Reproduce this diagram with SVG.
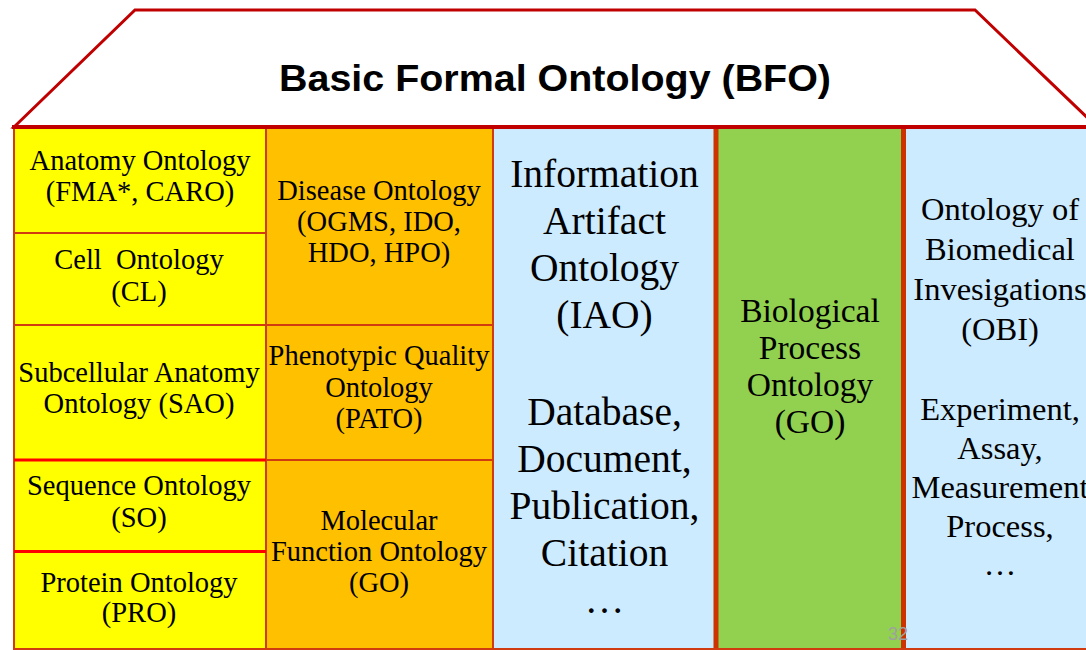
<svg xmlns="http://www.w3.org/2000/svg" width="1086" height="650" viewBox="0 0 1086 650">
<style>
.serif{font-family:"Liberation Serif","Times New Roman",serif;fill:#000;text-anchor:middle}
.s-left{font-size:28.5px}
.s-green{font-size:33.5px}
.s-iao{font-size:39.5px}
.s-obi{font-size:32.5px}
.title{font-family:"Liberation Sans",Arial,sans-serif;font-weight:bold;font-size:37px;fill:#000;text-anchor:middle}
.pg{font-family:"Liberation Sans",Arial,sans-serif;font-size:18px;fill:#a0a0a0;text-anchor:middle}
.thin{stroke:#d03c10;stroke-width:2;fill:none}
.red{stroke:#ff0000;stroke-width:3;fill:none}
.thick{stroke:#cc3300;stroke-width:5;fill:none}
.yellow{fill:#ffff00}
.orange{fill:#ffc000}
.blue{fill:#cdebff}
.green{fill:#92d050}
</style>
<rect x="0" y="0" width="1086" height="650" fill="#ffffff"/>

<g id="roof">
  <polygon points="14,127 135,10 975,10 1097,127" fill="#ffffff" stroke="#c00000" stroke-width="3"/>
  <text class="title" x="555" y="91" textLength="552" lengthAdjust="spacingAndGlyphs">Basic Formal Ontology (BFO)</text>
</g>

<g id="anatomy">
  <rect class="yellow" x="14" y="127" width="252" height="106"/>
  <text class="serif s-left" x="140" y="170">Anatomy Ontology</text>
  <text class="serif s-left" x="140" y="201">(FMA*, CARO)</text>
</g>
<g id="cell">
  <rect class="yellow" x="14" y="233" width="252" height="92"/>
  <text class="serif s-left" x="139" y="269">Cell&#160; Ontology</text>
  <text class="serif s-left" x="139" y="301">(CL)</text>
</g>
<g id="subcellular">
  <rect class="yellow" x="14" y="325" width="252" height="135"/>
  <text class="serif s-left" x="139" y="382">Subcellular Anatomy</text>
  <text class="serif s-left" x="139" y="413">Ontology (SAO)</text>
</g>
<g id="sequence">
  <rect class="yellow" x="14" y="460" width="252" height="91"/>
  <text class="serif s-left" x="139" y="495">Sequence Ontology</text>
  <text class="serif s-left" x="139" y="527">(SO)</text>
</g>
<g id="protein">
  <rect class="yellow" x="14" y="551" width="252" height="99"/>
  <text class="serif s-left" x="139" y="592">Protein Ontology</text>
  <text class="serif s-left" x="139" y="622">(PRO)</text>
</g>

<g id="disease">
  <rect class="orange" x="266" y="127" width="227" height="198"/>
  <text class="serif s-left" x="379" y="200">Disease Ontology</text>
  <text class="serif s-left" x="379" y="231">(OGMS, IDO,</text>
  <text class="serif s-left" x="379" y="262">HDO, HPO)</text>
</g>
<g id="pato">
  <rect class="orange" x="266" y="325" width="227" height="135"/>
  <text class="serif s-left" x="379" y="365">Phenotypic Quality</text>
  <text class="serif s-left" x="379" y="397">Ontology</text>
  <text class="serif s-left" x="379" y="428">(PATO)</text>
</g>
<g id="molecular">
  <rect class="orange" x="266" y="460" width="227" height="190"/>
  <text class="serif s-left" x="379" y="530">Molecular</text>
  <text class="serif s-left" x="379" y="561">Function Ontology</text>
  <text class="serif s-left" x="379" y="592">(GO)</text>
</g>

<g id="iao">
  <rect class="blue" x="493" y="127" width="223" height="523"/>
  <text class="serif s-iao" x="604.5" y="187">Information</text>
  <text class="serif s-iao" x="604.5" y="234">Artifact</text>
  <text class="serif s-iao" x="604.5" y="281">Ontology</text>
  <text class="serif s-iao" x="604.5" y="328">(IAO)</text>
  <text class="serif s-iao" x="604.5" y="425">Database,</text>
  <text class="serif s-iao" x="604.5" y="472">Document,</text>
  <text class="serif s-iao" x="604.5" y="519">Publication,</text>
  <text class="serif s-iao" x="604.5" y="566">Citation</text>
  <text class="serif s-iao" x="604.5" y="613">…</text>
</g>

<g id="bp">
  <rect class="green" x="716" y="127" width="188" height="523"/>
  <text class="serif s-green" x="810" y="322">Biological</text>
  <text class="serif s-green" x="810" y="359">Process</text>
  <text class="serif s-green" x="810" y="396">Ontology</text>
  <text class="serif s-green" x="810" y="433">(GO)</text>
</g>

<g id="obi">
  <rect class="blue" x="904" y="127" width="182" height="523"/>
  <text class="serif s-obi" x="1000" y="220">Ontology of</text>
  <text class="serif s-obi" x="1000" y="260">Biomedical</text>
  <text class="serif s-obi" x="1000" y="300">Invesigations</text>
  <text class="serif s-obi" x="1000" y="340">(OBI)</text>
  <text class="serif s-obi" x="1000" y="420">Experiment,</text>
  <text class="serif s-obi" x="1000" y="459">Assay,</text>
  <text class="serif s-obi" x="1000" y="498">Measurement</text>
  <text class="serif s-obi" x="1000" y="537">Process,</text>
  <text class="serif s-obi" x="1000" y="575">…</text>
</g>

<g id="connectors">
  <line class="thin" x1="14" y1="127" x2="14" y2="650"/>
  <line class="thin" x1="266" y1="127" x2="266" y2="650"/>
  <line class="thin" x1="493" y1="127" x2="493" y2="650"/>
  <line class="thin" x1="14" y1="233" x2="266" y2="233"/>
  <line class="thin" x1="14" y1="325" x2="493" y2="325"/>
  <line class="thin" x1="266" y1="460" x2="493" y2="460"/>
  <line class="red" x1="14" y1="460" x2="266" y2="460"/>
  <line class="red" x1="14" y1="551.5" x2="266" y2="551.5"/>
  <line class="thick" x1="716" y1="127" x2="716" y2="650"/>
  <line class="thick" x1="903.5" y1="127" x2="903.5" y2="650"/>
  <line class="thin" x1="14" y1="649" x2="1086" y2="649"/>
  <line x1="12" y1="127" x2="1086" y2="127" stroke="#c00000" stroke-width="4"/>
</g>

<text class="pg" x="898" y="640">32</text>
</svg>
